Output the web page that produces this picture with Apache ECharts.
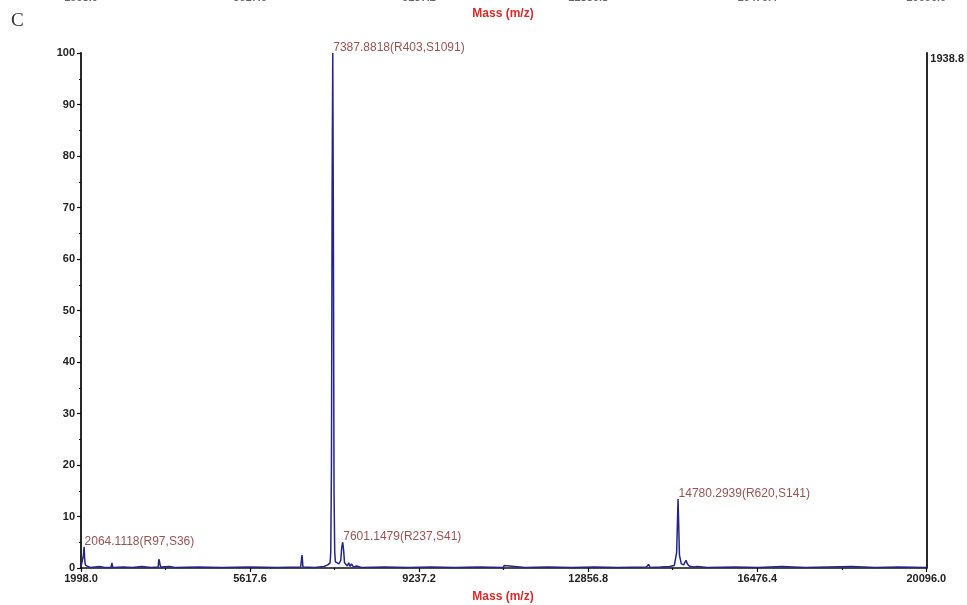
<!DOCTYPE html>
<html>
<head>
<meta charset="utf-8">
<script src="https://cdn.jsdelivr.net/npm/echarts@6/dist/echarts.min.js"></script>
<style>
  html, body { margin: 0; padding: 0; background: #fff; }
  #chart { width: 967px; height: 605px; }
</style>
</head>
<body>
<div id="chart"></div>
<script>
// ---- Data ----
const massValues = [
  1998, 2030, 2050, 2064.1118, 2078, 2095, 2120, 2200, 2400, 2500, 2640, 2660, 2680, 2900, 3100, 3300, 3500,
  3650, 3665, 3680, 3700, 3900, 4000, 4500, 5000, 5600, 6200, 6700, 6730, 6750, 7000, 7200, 7280, 7330,
  7345, 7360, 7375, 7387.8818, 7400, 7415, 7430, 7445, 7520, 7560, 7580, 7601.1479, 7620, 7640, 7680, 7700,
  7730, 7760, 7790, 7830, 7900, 8000, 8500, 9000, 9500, 10000, 10500, 11040, 11060, 11080, 11500, 12000,
  12500, 13000, 13500, 14100, 14150, 14180, 14400, 14600, 14700, 14750, 14780.2939, 14810, 14850, 14900,
  14950, 14980, 15020, 15060, 15100, 15200, 15400, 16000, 16500, 17000, 17500, 18000, 18500, 19000, 19500, 20096
];
const intensityValues = [
  0.2, 0.5, 2.5, 4.1, 1.5, 0.5, 0.3, 0.1, 0.3, 0.1, 0.1, 1.0, 0.1, 0.2, 0.1, 0.3, 0.1,
  0.2, 1.7, 1.2, 0.2, 0.3, 0.1, 0.2, 0.1, 0.2, 0.1, 0.2, 2.5, 0.2, 0.1, 0.3, 0.6, 1.0,
  3, 20, 75, 100, 70, 15, 3, 1.2, 0.8, 1.5, 4, 5.0, 3.5, 1, 1.0, 0.4,
  1.0, 0.3, 0.8, 0.2, 0.4, 0.1, 0.2, 0.1, 0.2, 0.1, 0.2, 0.1, 0.5, 0.2, 0.1, 0.2,
  0.1, 0.2, 0.1, 0.2, 0.7, 0.1, 0.2, 0.3, 0.5, 3, 13.4, 2.5, 0.8, 0.6,
  1.5, 0.8, 0.4, 0.6, 0.2, 0.3, 0.1, 0.2, 0.1, 0.3, 0.1, 0.2, 0.3, 0.1, 0.2, 0.1
];
const peakMasses = [2064.1118, 7387.8818, 7601.1479, 14780.2939];
const peakIntensities = [4.1, 100, 5.0, 13.4];
const peakLabels = ['2064.1118(R97,S36)', '7387.8818(R403,S1091)', '7601.1479(R237,S41)', '14780.2939(R620,S141)'];
const xTicks = [1998.0, 5617.6, 9237.2, 12856.8, 16476.4, 20096.0];
const xMinorTicks = [3807.8, 7427.4, 11047.0, 14666.6, 18286.2];
const xMin = 1998.0, xMax = 20096.0;
const rightAxisMax = 1938.8;
const xAxisTitle = 'Mass (m/z)';
const panelLetter = 'C';

// ---- Build ----
const spectrum = massValues.map((m, i) => [m, intensityValues[i]]);
const peaks = peakMasses.map((m, i) => [m, peakIntensities[i], peakLabels[i]]);

const labelFont = { fontFamily: 'Liberation Sans, Arial, sans-serif', fontSize: 11, fontWeight: 'bold', color: '#222' };

const chart = echarts.init(document.getElementById('chart'), null, { renderer: 'canvas' });
chart.setOption({
  animation: false,
  backgroundColor: '#ffffff',
  grid: { left: 81, right: 36, top: 53, bottom: 37, containLabel: false },
  xAxis: [
    {
      type: 'value', min: xMin, max: xMax, position: 'bottom',
      axisLine: { show: true, onZero: false, lineStyle: { color: '#111', width: 1.6 } },
      axisTick: { show: true, customValues: xTicks, length: 4, inside: false, lineStyle: { color: '#111', width: 1.2 } },
      axisLabel: { show: true, customValues: xTicks, margin: 5, formatter: v => v.toFixed(1), ...labelFont },
      splitLine: { show: false }
    },
    {
      type: 'value', min: xMin, max: xMax, position: 'bottom',
      axisLine: { show: false },
      axisTick: { show: true, customValues: xMinorTicks, length: 2, lineStyle: { color: '#111', width: 1.2 } },
      axisLabel: { show: false },
      splitLine: { show: false }
    }
  ],
  yAxis: [
    {
      type: 'value', min: 0, max: 100, interval: 10, position: 'left',
      axisLine: { show: true, onZero: false, lineStyle: { color: '#111', width: 1.8 } },
      axisTick: { show: true, length: 4, lineStyle: { color: '#111', width: 1.2 } },
      minorTick: { show: true, splitNumber: 2, length: 2, lineStyle: { color: '#111', width: 1.2 } },
      axisLabel: { margin: 6, ...labelFont },
      splitLine: { show: false }
    },
    {
      type: 'value', min: 0, max: rightAxisMax, position: 'right',
      axisLine: { show: true, onZero: false, lineStyle: { color: '#111', width: 1.8 } },
      axisTick: { show: false },
      axisLabel: { show: true, customValues: [rightAxisMax], margin: 4, verticalAlign: 'top', formatter: v => v.toFixed(1), ...labelFont },
      splitLine: { show: false }
    }
  ],
  series: [
    {
      type: 'line', xAxisIndex: 0, yAxisIndex: 0, data: spectrum,
      showSymbol: false, symbol: 'none',
      lineStyle: { color: '#24248e', width: 1.5 },
      z: 3
    },
    {
      type: 'scatter', xAxisIndex: 0, yAxisIndex: 0, data: peaks,
      symbolSize: 1, itemStyle: { color: 'rgba(0,0,0,0)' },
      label: {
        show: true, position: [0, 0], align: 'left', verticalAlign: 'bottom', offset: [1, 1],
        formatter: p => p.data[2],
        fontFamily: 'Liberation Sans, Arial, sans-serif', fontSize: 12, color: '#7f2626'
      },
      z: 4
    }
  ],
  graphic: [
    { type: 'text', left: 11, top: 12, style: { text: panelLetter, font: '19px "Liberation Serif", "DejaVu Serif", serif', fill: '#333' } },
    { type: 'text', x: 503, y: 14, style: { text: xAxisTitle, font: 'bold 12px "Liberation Sans", Arial, sans-serif', fill: '#e02828', align: 'center', verticalAlign: 'middle' } },
    { type: 'text', x: 503, y: 597, style: { text: xAxisTitle, font: 'bold 12px "Liberation Sans", Arial, sans-serif', fill: '#e02828', align: 'center', verticalAlign: 'middle' } }
  ]
});

// clipped tick labels of the previous panel at the very top
const opt = chart.getOption();
const topLabels = xTicks.map(v => ({
  type: 'text',
  x: chart.convertToPixel({ xAxisIndex: 0 }, v),
  y: -2,
  style: { text: v.toFixed(1), font: 'bold 11px "Liberation Sans", Arial, sans-serif', fill: '#666', align: 'center', verticalAlign: 'middle' }
}));
chart.setOption({ graphic: opt.graphic[0].elements.concat(topLabels) });
</script>
</body>
</html>
